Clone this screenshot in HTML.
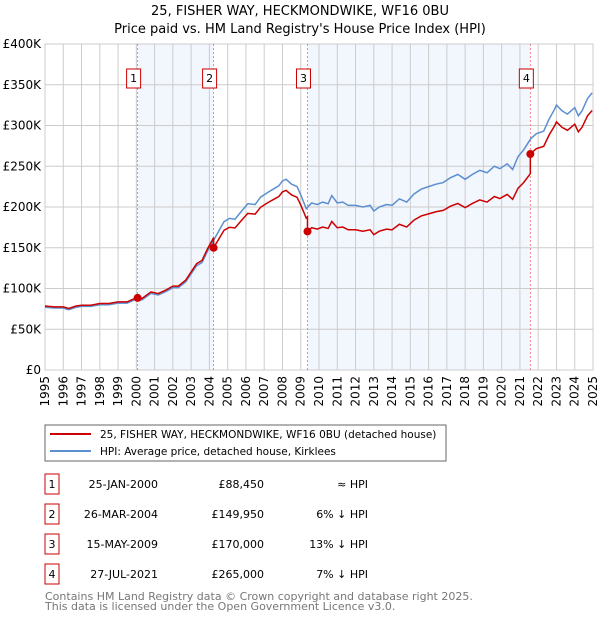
<!DOCTYPE html>
<html><head><meta charset="utf-8"><style>
body{margin:0;background:#fff;font-family:"DejaVu Sans","Liberation Sans",sans-serif;}
svg text{font-family:"DejaVu Sans","Liberation Sans",sans-serif;}
</style></head><body>
<svg id="c" width="600" height="620" xmlns="http://www.w3.org/2000/svg">
<text x="300" y="15" text-anchor="middle" font-size="13">25, FISHER WAY, HECKMONDWIKE, WF16 0BU</text>
<text x="300" y="33" text-anchor="middle" font-size="13">Price paid vs. HM Land Registry's House Price Index (HPI)</text>
<g id="plot"></g>
<rect x="45" y="425" width="401" height="36" fill="#fff" stroke="#666"/>
<line x1="50" y1="434" x2="91" y2="434" stroke="#cc0000" stroke-width="2"/>
<text x="100" y="438" font-size="10.5">25, FISHER WAY, HECKMONDWIKE, WF16 0BU (detached house)</text>
<line x1="50" y1="451" x2="91" y2="451" stroke="#5b8fd0" stroke-width="2"/>
<text x="100" y="455" font-size="10.5">HPI: Average price, detached house, Kirklees</text>
<g id="table"></g>
<text x="45" y="600" font-size="11" fill="#777">Contains HM Land Registry data © Crown copyright and database right 2025.</text>
<text x="45" y="610" font-size="11" fill="#777">This data is licensed under the Open Government Licence v3.0.</text>
</svg>
<script>
const hpiYears=[1995.0,1995.5,1996.0,1996.3,1996.7,1997.0,1997.5,1998.0,1998.5,1999.0,1999.5,2000.0,2000.3,2000.8,2001.2,2001.6,2002.0,2002.3,2002.7,2003.0,2003.3,2003.6,2003.9,2004.2,2004.5,2004.8,2005.1,2005.4,2005.8,2006.1,2006.5,2006.8,2007.2,2007.5,2007.8,2008.0,2008.2,2008.5,2008.8,2009.0,2009.3,2009.6,2009.9,2010.2,2010.5,2010.7,2011.0,2011.3,2011.6,2012.0,2012.4,2012.8,2013.0,2013.3,2013.7,2014.0,2014.4,2014.8,2015.2,2015.6,2016.0,2016.4,2016.8,2017.2,2017.6,2018.0,2018.4,2018.8,2019.2,2019.6,2019.9,2020.3,2020.6,2020.9,2021.2,2021.6,2021.9,2022.3,2022.6,2022.9,2023.0,2023.3,2023.6,2024.0,2024.2,2024.4,2024.7,2024.95];
const hpiValues=[77,76,76,74,77,78,78,80,80,82,82,87,86,94,92,96,101,101,108,118,128,132,146,158,170,182,186,185,196,204,203,212,218,222,226,232,234,228,225,215,198,205,203,206,204,214,205,206,202,202,200,202,195,200,203,202,210,206,216,222,225,228,230,236,240,234,240,245,242,250,247,253,246,262,270,284,290,293,308,320,325,318,314,322,312,318,333,340];
const saleYears=[2000.07,2004.23,2009.37,2021.57];
const salePrices=[88.45,149.95,170,265];
const saleDates=["25-JAN-2000","26-MAR-2004","15-MAY-2009","27-JUL-2021"];
const salePriceLabels=["£88,450","£149,950","£170,000","£265,000"];
const saleHpiLabels=["≈ HPI","6% ↓ HPI","13% ↓ HPI","7% ↓ HPI"];
const yTicks=[0,50,100,150,200,250,300,350,400];
const yTickLabels=["£0","£50K","£100K","£150K","£200K","£250K","£300K","£350K","£400K"];

const NS="http://www.w3.org/2000/svg";
const X0=45,X1=593,Y0=370,Y1=44;
const x=t=>X0+(t-1995)/30*(X1-X0);
const y=v=>Y0-v/400*(Y0-Y1);
const plot=document.getElementById('plot');
function mk(tag,attrs,parent){const e=document.createElementNS(NS,tag);for(const k in attrs)e.setAttribute(k,attrs[k]);(parent||plot).appendChild(e);return e;}
function hpiAt(t){for(let i=0;i<hpiYears.length-1;i++){if(t<=hpiYears[i+1]){const f=(t-hpiYears[i])/(hpiYears[i+1]-hpiYears[i]);return hpiValues[i]+f*(hpiValues[i+1]-hpiValues[i]);}}return hpiValues[hpiValues.length-1];}

[[0,1],[2,3]].forEach((p,i)=>{const r=mk('rect',{x:x(saleYears[p[0]]),y:Y1,width:x(saleYears[p[1]])-x(saleYears[p[0]]),height:Y0-Y1,fill:'#f2f6fd'});

});
for(let yr=1995;yr<=2025;yr++){const l=mk('line',{x1:x(yr),x2:x(yr),y1:Y1,y2:Y0,stroke:'#cccccc','stroke-width':1});


const t=mk('text',{x:0,y:0,'font-size':12,'text-anchor':'end',transform:`translate(${x(yr)+4},${Y0+6}) rotate(-90)`});t.textContent=yr;

}
yTicks.forEach((v,i)=>{const l=mk('line',{x1:X0,x2:X1,y1:y(v),y2:y(v),stroke:'#cccccc','stroke-width':1});


const t=mk('text',{x:X0-4,y:y(v)+4,'font-size':12,'text-anchor':'end'});t.textContent=yTickLabels[i];

});
const fr=mk('rect',{x:X0,y:Y1,width:X1-X0,height:Y0-Y1,fill:'none',stroke:'#cccccc'});


saleYears.forEach((s,i)=>{const l=mk('line',{x1:x(s),x2:x(s),y1:Y1,y2:Y0,stroke:'#f07070','stroke-width':0.8,'stroke-dasharray':'2,2'});


const b=mk('rect',{x:x(s)-11,y:69,width:14,height:19,fill:'#fff',stroke:'#cc0000'});


const t=mk('text',{x:x(s)-4,y:82,'font-size':11,'text-anchor':'middle'});t.textContent=i+1;

});
const hp=mk('polyline',{points:hpiYears.map((t,i)=>x(t)+','+y(hpiValues[i])).join(' '),fill:'none',stroke:'#5b8fd0','stroke-width':1.5});


const factors=saleYears.map((s,i)=>salePrices[i]/hpiAt(s));
function factorAt(t){let k=0;for(let i=0;i<saleYears.length;i++)if(t>=saleYears[i])k=i;return factors[k];}
let pts=[];
const allT=hpiYears.concat(saleYears.flatMap(s=>[s-0.001,s])).sort((a,b)=>a-b);
allT.forEach(t=>pts.push(x(t)+','+y(hpiAt(t)*factorAt(t))));
const rp=mk('polyline',{points:pts.join(' '),fill:'none',stroke:'#cc0000','stroke-width':1.5});


saleYears.forEach((s,i)=>{const c=mk('circle',{cx:x(s),cy:y(salePrices[i]),r:4,fill:'#cc0000'});

});
const tb=document.getElementById('table');
saleDates.forEach((d,i)=>{const yy=483+30*i;
const b=mk('rect',{x:45,y:yy-9,width:14,height:20,fill:'#fff',stroke:'#cc0000'},tb);


const cells=[[52,'middle',String(i+1)],[158,'end',d],[264,'end',salePriceLabels[i]],[368,'end',saleHpiLabels[i]]];
const names=['table-index','table-date','table-price','table-hpi-diff'];
cells.forEach((c,j)=>{const t=mk('text',{x:c[0],y:yy+5,'font-size':11,'text-anchor':c[1]},tb);t.textContent=c[2];

});});
</script>
</body></html>
